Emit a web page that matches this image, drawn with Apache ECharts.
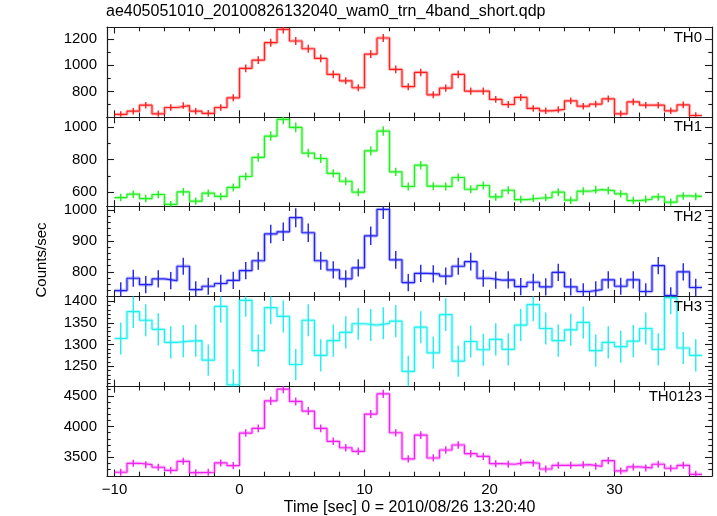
<!DOCTYPE html>
<html><head><meta charset="utf-8">
<script src="https://cdn.jsdelivr.net/npm/echarts@6/dist/echarts.min.js"></script>
<style>html,body{margin:0;padding:0;background:#fff}#c{width:717px;height:516px}</style>
</head><body><div id="c"></div>
<script>
const chartTitle = 'ae405051010_20100826132040_wam0_trn_4band_short.qdp';
const xTitle = 'Time [sec] 0 = 2010/08/26 13:20:40';
const yTitle = 'Counts/sec';
const panelNames = ['TH0', 'TH1', 'TH2', 'TH3', 'TH0123'];

const timeCenters = [-9.5,-8.5,-7.5,-6.5,-5.5,-4.5,-3.5,-2.5,-1.5,-0.5,
  0.5,1.5,2.5,3.5,4.5,5.5,6.5,7.5,8.5,9.5,
  10.5,11.5,12.5,13.5,14.5,15.5,16.5,17.5,18.5,19.5,
  20.5,21.5,22.5,23.5,24.5,25.5,26.5,27.5,28.5,29.5,
  30.5,31.5,32.5,33.5,34.5,35.5,36.5];
const binHalfWidth = 0.5;

const th0 = [624,649,695,629,677,692,649,632,677,751,
  976,1039,1172,1274,1185,1126,1052,930,881,828,
  1085,1208,968,836,945,774,825,930,802,802,
  739,700,754,670,652,662,728,687,703,743,
  629,720,695,695,652,697,616];
const th0Err = [25,25,25,25,25,25,25,25,25,27,
  29,29,31,32,31,31,29,29,27,27,
  29,31,29,27,29,27,27,29,27,27,
  26,26,27,25,25,25,26,25,26,26,
  25,26,25,25,25,25,25];

const th1 = [567,588,561,586,525,602,545,594,574,629,
  696,813,943,1045,996,839,806,715,667,600,
  853,974,724,635,765,637,635,690,618,641,
  571,612,555,563,567,600,551,606,616,610,
  590,549,557,571,539,577,574];
const th1Err = [23,23,23,23,22,24,22,23,23,24,
  25,27,29,30,30,27,27,25,24,24,
  28,29,25,24,26,24,24,25,24,24,
  23,24,23,23,23,24,23,24,24,24,
  23,23,23,23,22,23,23];

const th2 = [739,779,758,777,771,818,742,753,762,772,
  804,836,923,930,976,927,836,806,777,813,
  917,1003,839,765,795,793,786,818,833,779,
  773,774,752,766,751,798,751,736,742,774,
  753,774,736,820,723,800,749];
const th2Err = [27,28,28,28,28,28,27,28,28,28,
  28,29,30,30,31,30,29,28,28,28,
  30,31,29,28,28,28,28,28,29,28,
  28,28,28,28,28,28,28,27,27,28,
  28,28,27,28,27,28,28];

const th3 = [1314,1376,1356,1335,1305,1308,1309,1264,1388,1207,
  1402,1286,1385,1365,1254,1356,1275,1309,1328,1348,
  1345,1349,1354,1238,1340,1281,1369,1262,1307,1288,
  1312,1289,1345,1392,1337,1309,1334,1351,1286,1305,
  1295,1308,1337,1289,1408,1292,1275];
const th3Err = [37,38,37,37,37,37,37,36,38,36,
  38,37,38,37,36,37,37,37,37,37,
  37,37,37,36,37,37,38,36,37,37,
  37,37,37,38,37,37,37,37,37,37,
  37,37,37,37,38,37,37];

const th0123 = [3257,3403,3380,3338,3289,3435,3250,3257,3408,3364,
  3895,3971,4419,4609,4409,4252,3971,3760,3656,3598,
  4203,4533,3900,3473,3862,3489,3619,3700,3559,3516,
  3396,3387,3419,3403,3310,3370,3370,3380,3354,3445,
  3278,3343,3327,3387,3322,3370,3224];
const th0123Err = [57,58,58,58,57,58,57,57,58,58,
  62,63,66,67,66,65,63,61,60,60,
  65,67,62,59,62,59,60,61,60,59,
  58,58,58,58,58,58,58,58,58,59,
  57,58,58,58,58,58,57];

const xRange = [-10.6, 37.8];
const xMajorTicks = [-10, 0, 10, 20, 30];
const xMinorTicks = [-8,-6,-4,-2,2,4,6,8,12,14,16,18,22,24,26,28,32,34,36];

const yRanges = [[606, 1292], [512, 1061], [720, 1012], [1204, 1411], [3196, 4657]];
const yMajorTicks = [[800, 1000, 1200], [600, 800, 1000], [800, 900, 1000], [1250, 1300, 1350, 1400], [3500, 4000, 4500]];
const yMinorTicks = [
  [700, 900, 1100],
  [700, 900],
  [740, 760, 780, 820, 840, 860, 880, 920, 940, 960, 980],
  [1210, 1220, 1230, 1240, 1260, 1270, 1280, 1290, 1310, 1320, 1330, 1340, 1360, 1370, 1380, 1390],
  [3300, 3400, 3600, 3700, 3800, 3900, 4100, 4200, 4300, 4400, 4600]
];

const panelValues = [th0, th1, th2, th3, th0123];
const panelErrors = [th0Err, th1Err, th2Err, th3Err, th0123Err];
const panelColors = ['#ff2020', '#22ee22', '#2222f0', '#22eeee', '#f022f0'];

const FONT = "'Liberation Sans', Arial, Helvetica, sans-serif";
const AX = '#1a1a1a';
const gridLeft = 107, gridRight = 5, gridTop = 27, panelH = 89.8;

const grids = [], xAxes = [], yAxes = [], series = [], titles = [];
titles.push({text: chartTitle, left: 106, top: 4, padding: 0,
  textStyle: {fontFamily: FONT, fontSize: 16, fontWeight: 'normal', color: '#000'}});

const minusFmt = v => String(v).replace('-', '\u2212');
const plainFmt = v => String(v);

panelValues.forEach((vals, i) => {
  const top = gridTop + i * panelH;
  grids.push({left: gridLeft, right: gridRight, top: top, height: panelH, outerBoundsMode: 'none', containLabel: false});
  titles.push({text: panelNames[i], right: 15, top: top + 3, padding: 0,
    textStyle: {fontFamily: FONT, fontSize: 15, fontWeight: 'normal', color: '#000'}});
  const isLast = i === panelValues.length - 1;
  const xBase = {type: 'value', gridIndex: i, min: xRange[0], max: xRange[1], splitLine: {show: false}};
  const lineOn = {show: true, onZero: false, lineStyle: {color: AX, width: 1.2}};
  const lineOff = {show: false, onZero: false};
  const tick = (vals, len) => ({show: true, inside: true, length: len, customValues: vals, lineStyle: {color: AX, width: 1.1}});
  xAxes.push(Object.assign({}, xBase, {position: 'bottom', axisLine: lineOn, axisTick: tick(xMajorTicks, 6.5),
    axisLabel: {show: isLast, customValues: xMajorTicks, formatter: minusFmt, margin: 6,
      fontFamily: FONT, fontSize: 15, color: '#000'},
    name: isLast ? xTitle : '', nameLocation: 'middle', nameGap: 24,
    nameTextStyle: {fontFamily: FONT, fontSize: 16, color: '#000'}}));
  xAxes.push(Object.assign({}, xBase, {position: 'bottom', axisLine: lineOff, axisTick: tick(xMinorTicks, 4.3), axisLabel: {show: false}}));
  xAxes.push(Object.assign({}, xBase, {position: 'top', axisLine: lineOn, axisTick: tick(xMajorTicks, 6.5), axisLabel: {show: false}}));
  xAxes.push(Object.assign({}, xBase, {position: 'top', axisLine: lineOff, axisTick: tick(xMinorTicks, 4.3), axisLabel: {show: false}}));

  const yBase = {type: 'value', gridIndex: i, min: yRanges[i][0], max: yRanges[i][1], splitLine: {show: false}};
  yAxes.push(Object.assign({}, yBase, {position: 'left', axisLine: lineOn, axisTick: tick(yMajorTicks[i], 7),
    axisLabel: {show: true, customValues: yMajorTicks[i], formatter: plainFmt, margin: 10, fontFamily: FONT, fontSize: 15, color: '#000'}}));
  yAxes.push(Object.assign({}, yBase, {position: 'left', axisLine: lineOff, axisTick: tick(yMinorTicks[i], 3.7), axisLabel: {show: false}}));
  yAxes.push(Object.assign({}, yBase, {position: 'right', axisLine: lineOn, axisTick: tick(yMajorTicks[i], 7), axisLabel: {show: false}}));
  yAxes.push(Object.assign({}, yBase, {position: 'right', axisLine: lineOff, axisTick: tick(yMinorTicks[i], 3.7), axisLabel: {show: false}}));

  const stepData = timeCenters.map((t, k) => [t - binHalfWidth, vals[k]]);
  stepData.push([timeCenters[timeCenters.length - 1] + binHalfWidth, vals[vals.length - 1]]);
  const color = panelColors[i];
  series.push({type: 'line', xAxisIndex: i * 4, yAxisIndex: i * 4, step: 'end', data: stepData,
    showSymbol: false, symbol: 'none', silent: true, clip: true, z: 2,
    lineStyle: {color: color, width: 3.4, opacity: 0.3}});
  series.push({type: 'line', xAxisIndex: i * 4, yAxisIndex: i * 4, step: 'end', data: stepData,
    showSymbol: false, symbol: 'none', silent: true, clip: true, z: 3,
    lineStyle: {color: color, width: 1.2}});
  const errs = panelErrors[i];
  series.push({type: 'custom', xAxisIndex: i * 4, yAxisIndex: i * 4, silent: true, clip: true, z: 4,
    data: timeCenters.map((t, k) => [t, vals[k] - errs[k], vals[k] + errs[k]]),
    renderItem: (params, api) => {
      const p1 = api.coord([api.value(0), api.value(1)]);
      const p2 = api.coord([api.value(0), api.value(2)]);
      return {type: 'line', shape: {x1: p1[0], y1: p1[1], x2: p2[0], y2: p2[1]},
        style: {stroke: color, lineWidth: 1.4}};
    }});
});

const chart = echarts.init(document.getElementById('c'), null, {renderer: 'canvas', width: 717, height: 516});
chart.setOption({
  animation: false,
  backgroundColor: '#fff',
  textStyle: {fontFamily: FONT},
  title: titles,
  grid: grids,
  xAxis: xAxes,
  yAxis: yAxes,
  series: series,
  graphic: [{type: 'text', x: 42, y: 260, rotation: Math.PI / 2,
    style: {text: yTitle, fontFamily: FONT, fontSize: 15, fill: '#000', textAlign: 'center', textVerticalAlign: 'middle'}}]
});
</script></body></html>
